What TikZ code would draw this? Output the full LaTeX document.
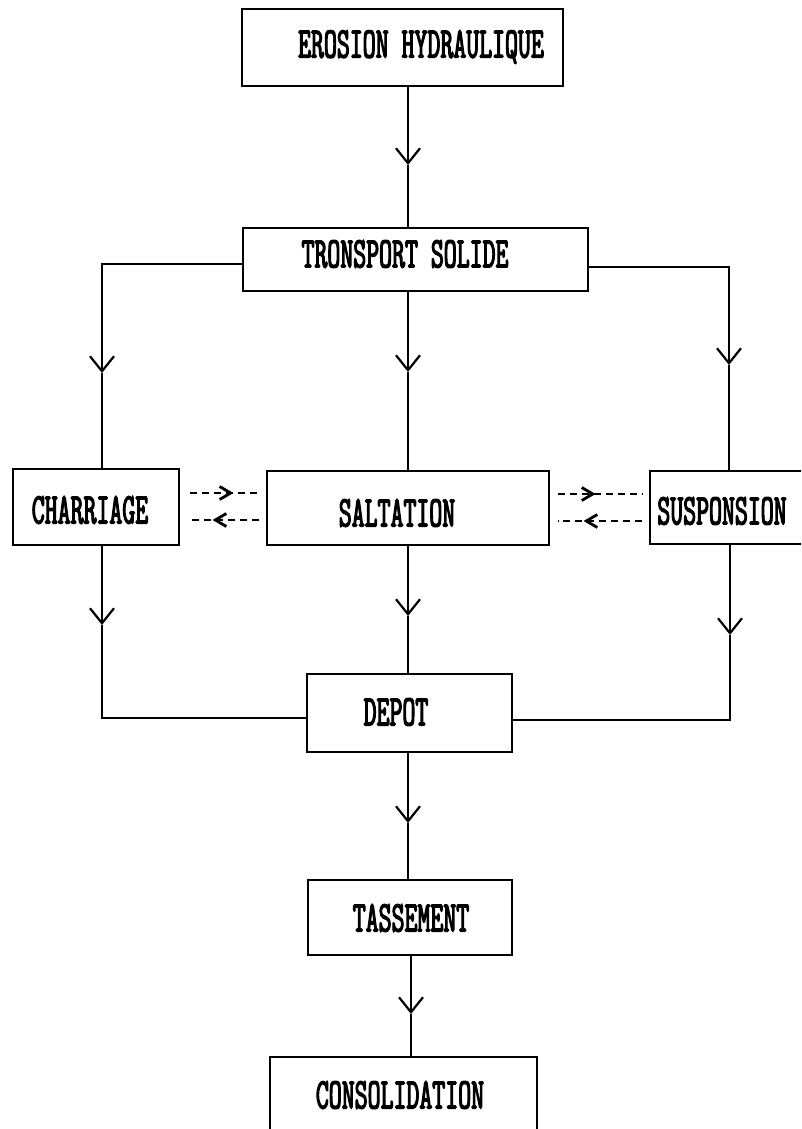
\documentclass[tikz,border=0pt]{standalone}
\usepackage{fontspec}
\newfontfamily\plotfont{lmmono10-regular.otf}[FakeStretch=0.56, FakeBold=2.5]
\usetikzlibrary{arrows.meta,decorations.markings}
\tikzset{
  box/.style={draw, line width=1.5pt, rectangle, inner sep=0pt},
  lbl/.style={font=\plotfont\fontsize{44}{44}\selectfont, inner sep=0pt},
  conn/.style={line width=2.8pt},
  vtip/.style={conn, -{Straight Barb[length=15pt,width=24pt,line width=2.2pt]}},
  dashline/.style={line width=1.7pt, dash pattern=on 7pt off 5pt},
  dmark/.style={dashline, postaction={decorate},
    decoration={markings, mark=at position #1 with {\arrow{Straight Barb[length=11pt,width=13pt,line width=2.8pt]}}}}
}
\begin{document}
\begin{tikzpicture}[x=1pt,y=-1pt]
\clip (0,0) rectangle (801,1129);
\fill[white] (0,0) rectangle (801,1129);
% boxes
\node[box, minimum width=321pt, minimum height=77pt] (ero) at (402.5,47.5) {};
\node[box, minimum width=345pt, minimum height=63pt] (tro) at (415.5,259.5) {};
\node[box, minimum width=166pt, minimum height=76pt] (char) at (96,507) {};
\node[box, minimum width=282pt, minimum height=74pt] (salt) at (408,508) {};
\node[box, minimum width=190pt, minimum height=73pt] (susp) at (745,507.5) {};
\node[box, minimum width=205pt, minimum height=78pt] (depot) at (409.5,713) {};
\node[box, minimum width=204pt, minimum height=75pt] (tass) at (410,917.5) {};
\node[box, minimum width=267pt, minimum height=103pt] (cons) at (403.5,1108.5) {};
% labels
\node[lbl] (tero) at (421,47) {EROSION HYDRAULIQUE};
\node[lbl] (ttro) at (405,254) {TRONSPORT SOLIDE};
\node[lbl] (tchar) at (90,510) {CHARRIAGE};
\node[lbl] (tsalt) at (397,513) {SALTATION};
\node[lbl] (tsusp) at (722,511) {SUSPONSION};
\node[lbl] (tdepot) at (396,712) {DEPOT};
\node[lbl] (ttass) at (411,918) {TASSEMENT};
\node[lbl] (tcons) at (400,1095) {CONSOLIDATION};
% arrow tip positions
\coordinate (aE) at (408,165);
\coordinate (aL) at (102,373);
\coordinate (aM) at (408,372);
\coordinate (aR) at (729,365);
\coordinate (bL) at (102,625);
\coordinate (bM) at (408,616);
\coordinate (bR) at (730,635);
\coordinate (cL) at (102,718);
\coordinate (cR) at (730,720);
\coordinate (aD) at (408,823);
\coordinate (aT) at (411,1014);
% solid connectors
\draw[vtip] (aE |- ero.south) -- (aE);
\draw[conn] (aE) -- (aE |- tro.north);
\draw[vtip] ([yshift=-4.5pt]tro.west) -| (aL);
\draw[conn] (aL) -- (aL |- char.north);
\draw[vtip] (aM |- tro.south) -- (aM);
\draw[conn] (aM) -- (aM |- salt.north);
\draw[vtip] ([yshift=-7.5pt]tro.east) -| (aR);
\draw[conn] (aR) -- (aR |- susp.north);
\draw[vtip] (bL |- char.south) -- (bL);
\draw[conn] (bL) -- (cL) -- (cL -| depot.west);
\draw[vtip] (bM |- salt.south) -- (bM);
\draw[conn] (bM) -- (bM |- depot.north);
\draw[vtip] (bR |- susp.south) -- (bR);
\draw[conn] (bR) -- (cR) -- (cR -| depot.east);
\draw[vtip] (aD |- depot.south) -- (aD);
\draw[conn] (aD) -- (aD |- tass.north);
\draw[vtip] (aT |- tass.south) -- (aT);
\draw[conn] (aT) -- (aT |- cons.north);
% dashed exchange arrows
\draw[dmark=0.62, shorten <=10pt, shorten >=7pt] ([yshift=14pt]char.east) -- ([yshift=14pt]char.east -| salt.west);
\draw[dmark=0.62, shorten <=7pt, shorten >=10pt] ([yshift=-13pt]char.east -| salt.west) -- ([yshift=-13pt]char.east);
\draw[dmark=0.46, shorten <=8pt, shorten >=7pt] ([yshift=14pt]salt.east) -- ([yshift=14pt]salt.east -| susp.west);
\draw[dmark=0.66, shorten <=7pt, shorten >=8pt] ([yshift=-13pt]salt.east -| susp.west) -- ([yshift=-13pt]salt.east);
\end{tikzpicture}
\end{document}
